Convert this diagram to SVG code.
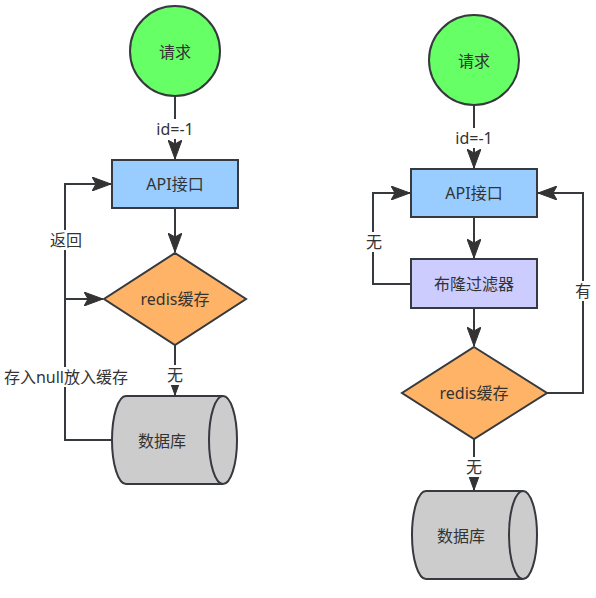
<svg xmlns="http://www.w3.org/2000/svg" width="596" height="598" viewBox="0 0 596 598">
<defs>
<style>
.s{stroke:#36393d;stroke-width:2}
.t{font-family:"Noto Sans","Noto Sans CJK SC",sans-serif;font-size:16px;fill:#333;text-anchor:middle;dominant-baseline:central}
.c{fill:none;stroke:#36393d;stroke-width:2}
.lb{fill:#fff}
</style>
<marker id="ar" markerUnits="userSpaceOnUse" markerWidth="20" markerHeight="14" refX="19" refY="7" orient="auto" viewBox="0 0 20 14">
<path d="M0,0 L19,7 L0,14 L4,7 Z" fill="#333" stroke="#333" stroke-width="1"/>
</marker>
</defs>
<rect width="596" height="598" fill="#fff"/>
<g id="connectors">
<path class="c" d="M175,96 L175,159" marker-end="url(#ar)"/>
<path class="c" d="M175,208 L175,252" marker-end="url(#ar)"/>
<path class="c" d="M175,345 L175,395" marker-end="url(#ar)"/>
<path class="c" d="M112,440 L65,440 L65,184 L111,184" marker-end="url(#ar)"/>
<path class="c" d="M65,299 L103,299" marker-end="url(#ar)"/>
<path class="c" d="M474,105 L474,168" marker-end="url(#ar)"/>
<path class="c" d="M474,217 L474,258" marker-end="url(#ar)"/>
<path class="c" d="M411,284 L373,284 L373,193 L410,193" marker-end="url(#ar)"/>
<path class="c" d="M474,308 L474,346" marker-end="url(#ar)"/>
<path class="c" d="M547,393 L583,393 L583,193 L538,193" marker-end="url(#ar)"/>
<path class="c" d="M474,439 L474,490" marker-end="url(#ar)"/>
<rect class="lb" x="153" y="119" width="44" height="20"/>
<text class="t" x="175" y="129">id=-1</text>
<rect class="lb" x="166" y="365" width="18" height="20"/>
<text class="t" x="175" y="375">无</text>
<rect class="lb" x="49" y="230" width="34" height="20"/>
<text class="t" x="66" y="240">返回</text>
<rect class="lb" x="3" y="367" width="127" height="20"/>
<text class="t" x="66" y="377">存入null放入缓存</text>
<rect class="lb" x="452" y="128" width="44" height="20"/>
<text class="t" x="474" y="138">id=-1</text>
<rect class="lb" x="365" y="232" width="18" height="20"/>
<text class="t" x="374" y="242">无</text>
<rect class="lb" x="574" y="281" width="18" height="20"/>
<text class="t" x="583" y="291">有</text>
<rect class="lb" x="465" y="457" width="18" height="20"/>
<text class="t" x="474" y="467">无</text>
</g>
<g id="l-request">
<circle class="s" cx="175" cy="51" r="45" fill="#66FF66"/>
<text class="t" x="175" y="52">请求</text>
</g>
<g id="l-api">
<rect class="s" x="112" y="160" width="126" height="48" fill="#99CCFF"/>
<text class="t" x="175" y="184">API接口</text>
</g>
<g id="l-redis">
<polygon class="s" points="175,253 246,299 175,345 104,299" fill="#FFB366"/>
<text class="t" x="175" y="299">redis缓存</text>
</g>
<g id="l-db">
<path class="s" d="M126,396 L223,396 A14,44 0 0 1 223,484 L126,484 A14,44 0 0 1 126,396 Z" fill="#CCCCCC"/>
<path class="c" d="M223,396 A14,44 0 0 0 223,484"/>
<text class="t" x="162" y="441">数据库</text>
</g>
<g id="r-request">
<circle class="s" cx="474" cy="60" r="45" fill="#66FF66"/>
<text class="t" x="474" y="61">请求</text>
</g>
<g id="r-api">
<rect class="s" x="411" y="169" width="126" height="48" fill="#99CCFF"/>
<text class="t" x="474" y="193">API接口</text>
</g>
<g id="r-bloom">
<rect class="s" x="411" y="259" width="126" height="49" fill="#CCCCFF"/>
<text class="t" x="474" y="284">布隆过滤器</text>
</g>
<g id="r-redis">
<polygon class="s" points="474,347 547,393 474,439 402,393" fill="#FFB366"/>
<text class="t" x="474" y="393">redis缓存</text>
</g>
<g id="r-db">
<path class="s" d="M426,491 L523,491 A14,44 0 0 1 523,579 L426,579 A14,44 0 0 1 426,491 Z" fill="#CCCCCC"/>
<path class="c" d="M523,491 A14,44 0 0 0 523,579"/>
<text class="t" x="461" y="536">数据库</text>
</g>
</svg>
